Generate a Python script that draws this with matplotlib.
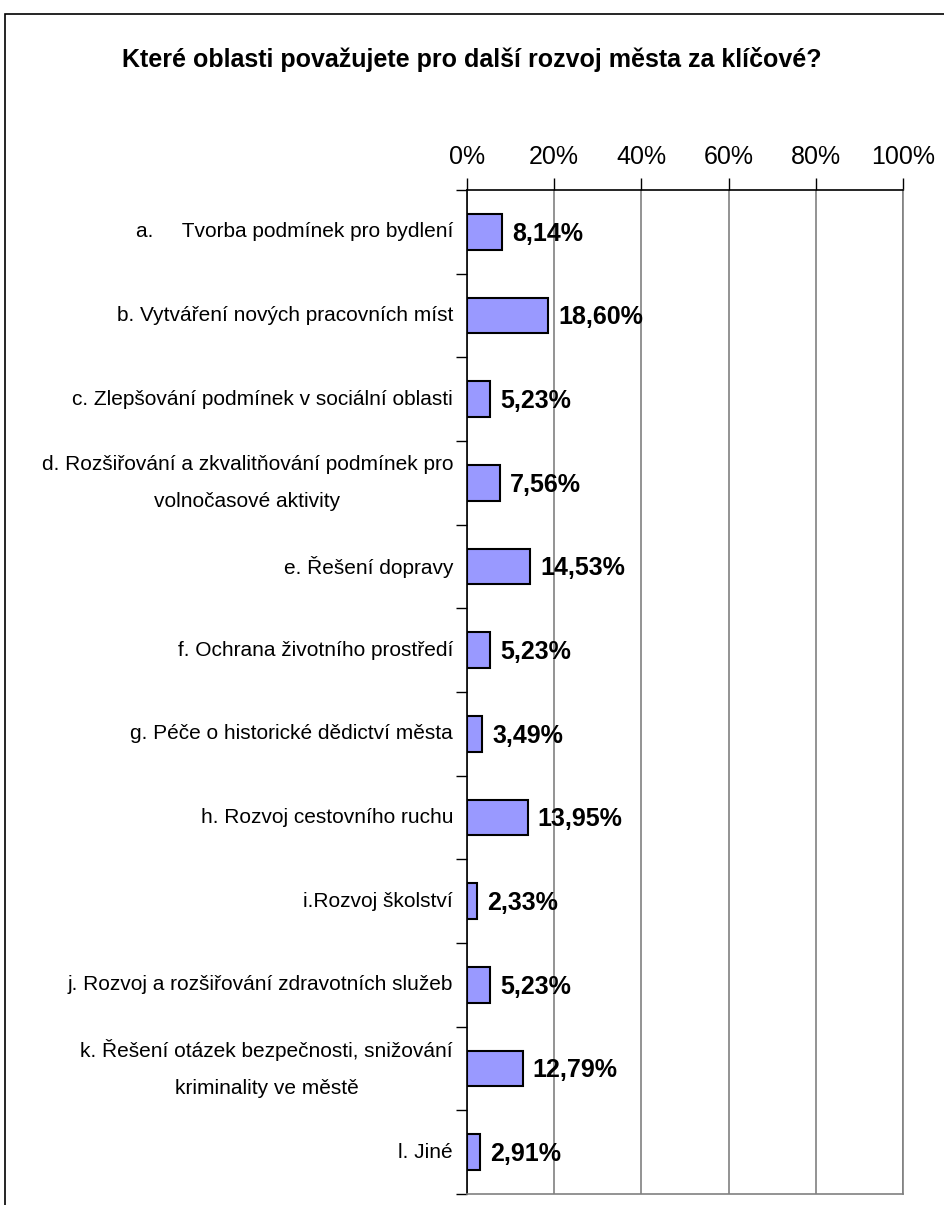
import numpy as np
import matplotlib
matplotlib.use("Agg")
import matplotlib.pyplot as plt
from matplotlib.patches import Rectangle

plt.rcParams['font.family'] = ['Liberation Sans', 'DejaVu Sans']

categories = [
    "a.     Tvorba podmínek pro bydlení",
    "b. Vytváření nových pracovních míst",
    "c. Zlepšování podmínek v sociální oblasti",
    "d. Rozšiřování a zkvalitňování podmínek pro\nvolnočasové aktivity",
    "e. Řešení dopravy",
    "f. Ochrana životního prostředí",
    "g. Péče o historické dědictví města",
    "h. Rozvoj cestovního ruchu",
    "i.Rozvoj školství",
    "j. Rozvoj a rozšiřování zdravotních služeb",
    "k. Řešení otázek bezpečnosti, snižování\nkriminality ve městě",
    "l. Jiné",
]
shares = [8.14, 18.60, 5.23, 7.56, 14.53, 5.23, 3.49, 13.95, 2.33, 5.23, 12.79, 2.91]
x_ticks = [0, 20, 40, 60, 80, 100]

fig = plt.figure(figsize=(9.44, 12.05), dpi=100)
ax = fig.add_axes([467/944, 1 - 1194/1205, (903 - 467)/944, (1194 - 190)/1205])

# outer chart border, runs off the right and bottom edges
fig.patches.append(Rectangle((5/944, -0.1), 2.0, 1 - 14/1205 + 0.1,
                             transform=fig.transFigure, fill=False,
                             edgecolor='black', linewidth=1.2))

pos = np.arange(len(categories))
ax.barh(pos, shares, height=0.43, color='#9999FF', edgecolor='black', linewidth=1.5, zorder=3)

for y, v in zip(pos, shares):
    ax.text(v + 2.3, y + 0.02, f"{v:.2f}%".replace('.', ','), va='center', ha='left',
            fontsize=18, fontweight='bold', zorder=4)

ax.set_xlim(0, 100)
ax.set_ylim(len(categories) - 0.5, -0.5)
ax.xaxis.tick_top()
ax.set_xticks(x_ticks)
ax.set_xticklabels([f"{t}%" for t in x_ticks], fontsize=18)
ax.tick_params(axis='x', direction='out', length=9, width=1, pad=6, color='black')
ax.grid(axis='x', color='#808080', linewidth=1.2, zorder=1)

ax.set_yticks(pos)
ax.set_yticklabels(categories, fontsize=15, multialignment='center', linespacing=2.2)
for lbl in ax.get_yticklabels():
    lbl.set_verticalalignment('center')
ax.tick_params(axis='y', length=0, pad=10)
ax.set_yticks(np.arange(-0.5, len(categories), 1.0), minor=True)
ax.tick_params(axis='y', which='minor', direction='out', length=8, width=1, color='black')

ax.spines['left'].set_color('black')
ax.spines['top'].set_color('black')
ax.spines['left'].set_linewidth(1.2)
ax.spines['top'].set_linewidth(1.2)
ax.spines['right'].set_color('#808080')
ax.spines['bottom'].set_color('#808080')
ax.spines['right'].set_linewidth(1.2)
ax.spines['bottom'].set_linewidth(1.2)

fig.text(472/944, 1 - 60/1205, "Které oblasti považujete pro další rozvoj města za klíčové?",
         ha='center', va='center', fontsize=18, fontweight='bold')

fig.savefig("out.png", dpi=100)
